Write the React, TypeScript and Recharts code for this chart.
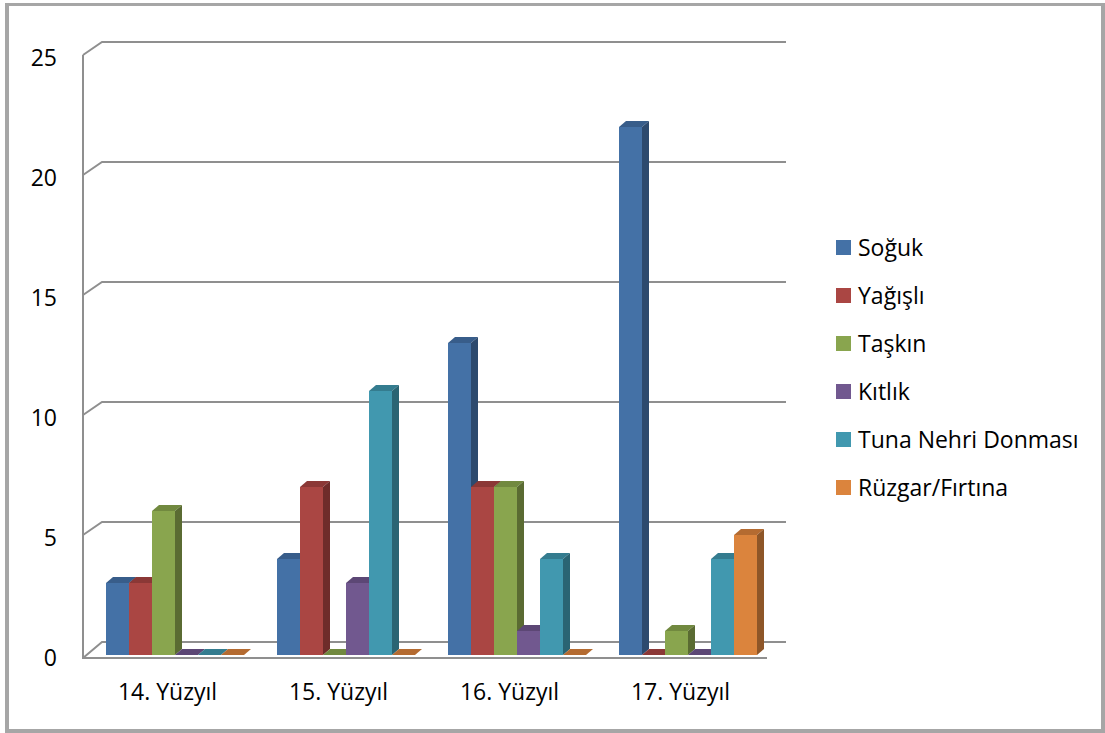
import React from 'react';
import { BarChart, Bar, XAxis, YAxis, CartesianGrid, Legend } from 'recharts';

// categories + series values
const categories = ['14. Yüzyıl', '15. Yüzyıl', '16. Yüzyıl', '17. Yüzyıl'];
const soguk = [3, 4, 13, 22];
const yagisli = [3, 7, 7, 0];
const taskin = [6, 0, 7, 1];
const kitlik = [0, 3, 1, 0];
const tuna = [0, 11, 4, 4];
const ruzgar = [0, 0, 0, 5];
const yTicks = [0, 5, 10, 15, 20, 25];

const seriesNames = ['Soğuk', 'Yağışlı', 'Taşkın', 'Kıtlık', 'Tuna Nehri Donması', 'Rüzgar/Fırtına'];
const seriesValues = [soguk, yagisli, taskin, kitlik, tuna, ruzgar];

// front / top / side colours for the fake 3D look
const frontColors = ['#4471A6', '#AA4643', '#89A54E', '#71588F', '#4198AF', '#DB843D'];
const topColors = ['#385D8A', '#8B3836', '#71893F', '#5C4775', '#347C8F', '#B46B31'];
const sideColors = ['#2D4A6E', '#6E2C2A', '#5A6B32', '#4A3A5E', '#2A6473', '#8E5628'];

const data = categories.map((name, i) => {
  const row: any = { name };
  seriesNames.forEach((s, j) => {
    row[s] = seriesValues[j][i];
  });
  return row;
});

const WIDTH = 1105;
const HEIGHT = 733;
const MARGIN = { top: 55, right: 338, bottom: 38, left: 0 };
const XAXIS_H = 40;
const YAXIS_W = 83;
const PLOT_BOTTOM = HEIGHT - MARGIN.bottom - XAXIS_H;

// perspective offsets
const WALL_DX = 19;
const WALL_DY = 13;
const DX = 7;
const DY = 6;
const SHIFT = 6;
const LINE = '#8f8f8f';
const FONT = '"Open Sans", sans-serif';

const make3DShape = (idx: number) => (props: any) => {
  const { x, y, width, height } = props;
  const x0 = x + SHIFT;
  const h = Math.max(0, height || 0);
  const yTop = y;
  const yBot = y + h;
  return (
    <g>
      {h > 0 && <rect x={x0} y={yTop} width={width} height={h} fill={frontColors[idx]} />}
      <polygon
        points={`${x0},${yTop} ${x0 + DX},${yTop - DY} ${x0 + width + DX},${yTop - DY} ${x0 + width},${yTop}`}
        fill={topColors[idx]}
      />
      {h > 0 && (
        <polygon
          points={`${x0 + width},${yTop} ${x0 + width + DX},${yTop - DY} ${x0 + width + DX},${yBot - DY} ${x0 + width},${yBot}`}
          fill={sideColors[idx]}
        />
      )}
    </g>
  );
};

const renderGridLine = (props: any) => {
  const { x1, x2, y1, index } = props;
  const floor = Math.abs(y1 - PLOT_BOTTOM) < 1;
  const yf = floor ? y1 + 3 : y1;
  return (
    <g key={`grid-${index}`}>
      <path
        d={`M${x1},${yf} L${x1 + WALL_DX},${y1 - WALL_DY} L${x2 + WALL_DX},${y1 - WALL_DY}`}
        stroke={LINE}
        strokeWidth={2}
        fill="none"
      />
      {floor && (
        <path d={`M${x1},${y1 - 1} L${x1},${yf} L${x2},${yf}`} stroke={LINE} strokeWidth={2} fill="none" />
      )}
    </g>
  );
};

const YTick = (props: any) => {
  const { x, y, payload } = props;
  return (
    <text x={x} y={y + 11} textAnchor="end" fill="#000" fontSize={23} fontFamily={FONT}>
      {payload.value}
    </text>
  );
};

const XTick = (props: any) => {
  const { x, y, payload } = props;
  return (
    <text x={x - 1} y={y + 45} textAnchor="middle" fill="#000" fontSize={23} fontFamily={FONT}>
      {payload.value}
    </text>
  );
};

const LegendContent = (props: any) => {
  const items = [...(props.payload || [])].sort(
    (a: any, b: any) => seriesNames.indexOf(a.value) - seriesNames.indexOf(b.value)
  );
  return (
    <div style={{ fontFamily: FONT, fontSize: 23, color: '#000' }}>
      {items.map((p: any) => (
        <div key={p.value} style={{ height: 48, display: 'flex', alignItems: 'center' }}>
          <span
            style={{
              width: 15,
              height: 15,
              background: frontColors[seriesNames.indexOf(p.value)],
              marginRight: 7,
              display: 'inline-block',
            }}
          />
          <span style={{ lineHeight: '48px', whiteSpace: 'nowrap' }}>{p.value}</span>
        </div>
      ))}
    </div>
  );
};

export default function App() {
  return (
    <div style={{ position: 'absolute', left: 0, top: 0, width: WIDTH, height: HEIGHT, background: '#fff' }}>
      <div
        style={{
          position: 'absolute',
          left: 5,
          top: 3,
          width: WIDTH - 5,
          height: HEIGHT - 3,
          boxSizing: 'border-box',
          border: '4px solid #a6a6a6',
          borderTopWidth: 3,
        }}
      />
      <div style={{ position: 'absolute', left: 0, top: 0 }}>
        <BarChart width={WIDTH} height={HEIGHT} data={data} margin={MARGIN} barCategoryGap={17} barGap={0}>
          <CartesianGrid vertical={false} horizontal={renderGridLine} />
          <XAxis
            dataKey="name"
            height={XAXIS_H}
            axisLine={false}
            tickLine={false}
            tickSize={0}
            tickMargin={0}
            tick={<XTick />}
            interval={0}
          />
          <YAxis
            width={YAXIS_W}
            domain={[0, 25]}
            ticks={yTicks}
            axisLine={{ stroke: LINE, strokeWidth: 2 }}
            tickLine={false}
            tickSize={0}
            tickMargin={26}
            tick={<YTick />}
            interval={0}
          />
          <Legend
            layout="horizontal"
            align="center"
            verticalAlign="middle"
            itemSorter={null as any}
            content={<LegendContent />}
            wrapperStyle={{ position: 'absolute', left: 836, top: 223, width: 265 }}
          />
          {seriesNames.map((s, i) => (
            <Bar key={s} dataKey={s} fill={frontColors[i]} shape={make3DShape(i)} isAnimationActive={false} />
          ))}
        </BarChart>
      </div>
    </div>
  );
}
